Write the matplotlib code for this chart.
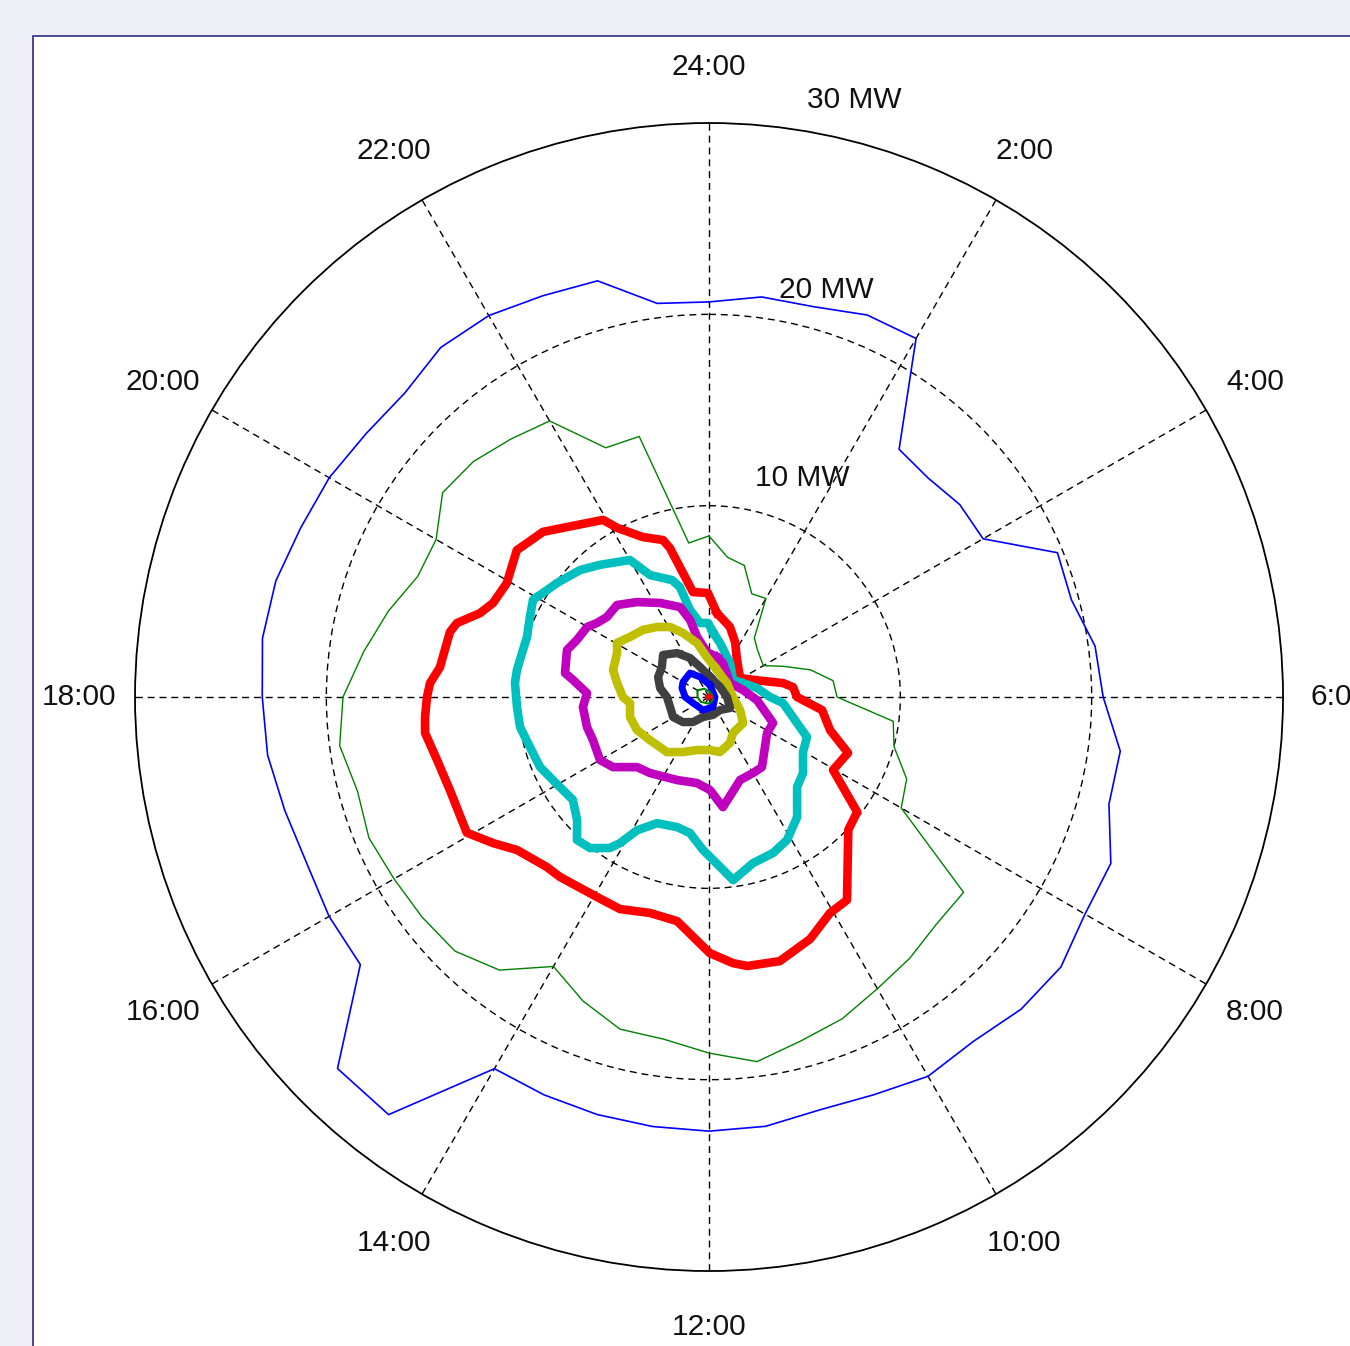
import numpy as np
import matplotlib.pyplot as plt
from matplotlib.patches import Rectangle

plt.rcParams['font.family'] = ['Liberation Sans', 'DejaVu Sans']

hour_labels = ['24:00', '2:00', '4:00', '6:00', '8:00', '10:00',
               '12:00', '14:00', '16:00', '18:00', '20:00', '22:00']
ring_labels = ['10 MW', '20 MW', '30 MW']

# half-hourly outer series (MW)
blue_h = np.arange(0, 24, 0.5)
blue_mw = [20.65, 21.09, 21.12, 21.61, 21.64, 16.32, 16.19, 16.52, 16.54, 19.71,
           19.61, 20.35, 20.6, 21.68, 21.64, 22.73, 22.69, 23.18, 23.07, 22.69,
           22.89, 22.5, 22.34, 22.63, 22.69, 22.64, 22.59, 22.51, 22.43, 27.51,
           27.46, 22.97, 22.93, 22.75, 22.95, 23.27, 23.35, 23.54, 23.44, 23.1,
           22.92, 22.6, 22.48, 23.03, 23.02, 22.7, 22.52, 20.75]

green_h = np.arange(0, 24, 0.5)
green_mw = [8.42, 7.37, 7.12, 5.84, 5.95, 3.89, 3.56, 3.38, 3.28, 4.2,
            5.49, 6.54, 6.69, 9.71, 10.01, 11.18, 11.6, 16.77, 16.8, 17.22,
            17.6, 18.2, 18.6, 19.22, 18.61, 18.04, 17.97, 17.2, 16.26, 17.99,
            18.78, 18.9, 19.01, 19.24, 19.02, 19.47, 19.13, 18.2, 17.35, 16.48,
            16.47, 17.55, 17.41, 17.0, 16.66, 14.1, 14.1, 8.12]

red_h = [0.36, 1.11, 1.69, 2.47, 3.9, 4.65, 5.29, 5.55, 6.0, 6.44, 7.02, 7.46,
         8.03, 8.52, 8.91, 9.72, 10.05, 10.49, 11.0, 11.46, 11.66, 11.99, 12.54,
         13.02, 13.52, 13.95, 14.64, 14.91, 15.43, 15.73, 16.05, 16.68, 17.13,
         17.52, 17.73, 18.0, 18.19, 18.42, 18.94, 19.09, 19.34, 19.57, 19.96,
         20.49, 20.99, 21.34, 21.94, 22.11, 22.5, 22.91, 23.02, 23.42, 23.96]
red_mw = [4.41, 3.82, 3.18, 2.43, 1.9, 2.56, 3.94, 4.42, 4.6, 5.95, 6.56, 7.83,
          7.52, 9.8, 10.06, 12.83, 12.94, 13.71, 14.29, 14.2, 13.96, 13.38, 11.83,
          11.7, 12.02, 11.98, 12.21, 12.28, 12.83, 13.63, 14.51, 14.39, 14.59,
          14.96, 14.88, 14.74, 14.6, 14.15, 13.96, 13.73, 12.75, 12.31, 12.13,
          12.64, 12.24, 11.58, 10.79, 10.03, 9.05, 8.55, 8.05, 5.55, 5.44]

cyan_h = [0.23, 0.77, 2.11, 3.65, 4.5, 5.29, 6.0, 6.31, 7.1, 7.48, 8.02, 8.6,
          9.04, 9.58, 10.09, 10.51, 11.01, 11.5, 11.75, 12.15, 12.53, 12.92,
          13.49, 13.89, 14.09, 14.22, 14.55, 14.85, 15.13, 15.53, 16.13, 16.5,
          16.96, 17.4, 17.8, 18.28, 18.53, 18.95, 19.22, 19.6, 19.93, 20.22,
          20.46, 20.97, 21.37, 22.0, 22.28, 22.83, 23.01, 23.18, 23.54, 23.95]
cyan_mw = [3.4, 2.88, 2.09, 1.54, 1.92, 2.55, 3.19, 3.88, 4.8, 5.53, 5.69, 6.32,
           6.58, 7.78, 8.51, 8.81, 8.98, 9.65, 8.9, 8.0, 7.18, 7.0,
           7.13, 7.91, 8.94, 9.44, 10.05, 10.17, 9.43, 8.92, 9.24, 9.56,
           9.72, 10.0, 10.05, 10.17, 10.14, 10.03, 10.02, 10.25, 10.51, 10.15,
           9.93, 9.46, 8.95, 8.27, 7.08, 6.41, 5.95, 4.65, 3.9, 3.87]

magenta_h = [0.75, 1.49, 3.75, 5.22, 6.24, 7.47, 8.12, 9.53, 10.0, 10.63, 11.52,
             11.96, 12.53, 13.41, 14.52, 15.05, 15.59, 16.0, 16.65, 17.08, 17.7,
             18.12, 18.48, 18.63, 19.22, 19.56, 19.99, 20.23, 20.54, 21.0, 21.52,
             22.17, 22.81, 23.08, 23.25, 23.83]
magenta_mw = [2.13, 1.92, 1.32, 1.81, 2.51, 3.61, 3.57, 4.59, 4.59, 4.63, 5.8,
              4.86, 4.54, 4.65, 5.03, 5.25, 6.21, 6.58, 6.47, 6.57, 6.61,
              6.38, 7.17, 7.63, 7.82, 7.52, 7.35, 7.02, 6.78, 6.8, 6.23,
              5.54, 4.94, 4.15, 3.2, 2.35]

yellow_h = [1.1, 3.47, 6.0, 7.52, 8.49, 9.76, 10.37, 11.25, 11.93, 12.85, 13.69,
            14.49, 15.59, 16.36, 17.05, 17.71, 18.0, 18.58, 19.05, 19.71, 20.03,
            20.48, 21.03, 21.56, 22.06, 22.53, 23.17, 23.8]
yellow_mw = [1.47, 1.19, 1.25, 1.76, 2.24, 2.26, 2.64, 2.93, 2.77, 2.84, 3.18,
             3.62, 3.82, 4.14, 4.26, 4.14, 4.5, 4.86, 5.21, 5.33, 5.58,
             5.19, 4.92, 4.56, 4.19, 3.61, 2.89, 2.09]

grey_h = [0.19, 3.18, 6.0, 7.84, 9.32, 11.17, 13.11, 14.17, 15.07, 16.06, 17.04,
          18.0, 18.69, 19.43, 20.17, 20.83, 21.6, 22.27, 22.89]
grey_mw = [1.05, 0.78, 0.94, 1.24, 0.89, 0.96, 1.09, 1.55, 1.89, 2.15, 2.1,
           2.2, 2.6, 2.86, 2.92, 3.26, 2.84, 2.27, 1.64]

blue2_h = [0.3, 6.0, 10.55, 13.65, 16.63, 18.0, 19.23, 20.0, 21.44, 22.39]
blue2_mw = [0.63, 0.31, 0.56, 0.75, 0.89, 1.25, 1.49, 1.57, 1.6, 1.15]

green2_h = [0, 4, 8, 12, 16, 18, 20, 22]
green2_mw = [0.3, 0.2, 0.25, 0.35, 0.5, 0.6, 0.7, 0.5]

red2_h = [0, 6, 12, 18]
red2_mw = [0.1, 0.15, 0.1, 0.15]

series = [
    (blue_h, blue_mw, '#0000ff', 1.2),
    (green_h, green_mw, '#008000', 1.0),
    (red_h, red_mw, '#ff0000', 6.2),
    (cyan_h, cyan_mw, '#00bfbf', 6.2),
    (magenta_h, magenta_mw, '#bf00bf', 6.2),
    (yellow_h, yellow_mw, '#bfbf00', 6.2),
    (grey_h, grey_mw, '#404040', 6.0),
    (blue2_h, blue2_mw, '#0000ff', 5.0),
    (green2_h, green2_mw, '#008000', 1.5),
    (red2_h, red2_mw, '#ff0000', 2.0),
]

fig = plt.figure(figsize=(13.5, 13.46), dpi=100)
fig.patch.set_facecolor('#eef0f5')
fig.add_artist(Rectangle((33 / 1350, -0.05), 1.1, 1.05 - 36 / 1346,
                         transform=fig.transFigure, facecolor='white',
                         edgecolor='#3c3c88', lw=1.3, zorder=0))

ax = fig.add_axes([0.1, 0.0557, 0.8504, 0.8529], projection='polar')
ax.patch.set_alpha(0)
ax.set_theta_zero_location('N')
ax.set_theta_direction(-1)

for h, mw, col, lw in series:
    th = np.deg2rad(np.append(h, h[0]) * 15)
    r = np.append(mw, mw[0])
    ax.plot(th, r, color=col, lw=lw, zorder=3)

ax.set_ylim(0, 30)
ax.set_yticks([10, 20])
ax.set_yticklabels([])
ax.set_xticks(np.deg2rad(np.arange(0, 360, 30)))
ax.set_xticklabels(hour_labels, fontsize=21.5, color='#111111')
ax.tick_params(axis='x', pad=30)
ax.grid(True, color='k', linestyle=(0, (5, 3.5)), lw=1.0)
ax.spines['polar'].set_color('k')
ax.spines['polar'].set_linewidth(1.3)

for lab, (ang, rr) in zip(ring_labels, [(11.9, 11.7), (9.8, 21.6), (9.3, 31.6)]):
    ax.text(np.deg2rad(ang), rr, lab, ha='left', va='center', fontsize=21.5,
            color='#111111', clip_on=False)

fig.savefig('out.png', dpi=100, facecolor=fig.get_facecolor())
